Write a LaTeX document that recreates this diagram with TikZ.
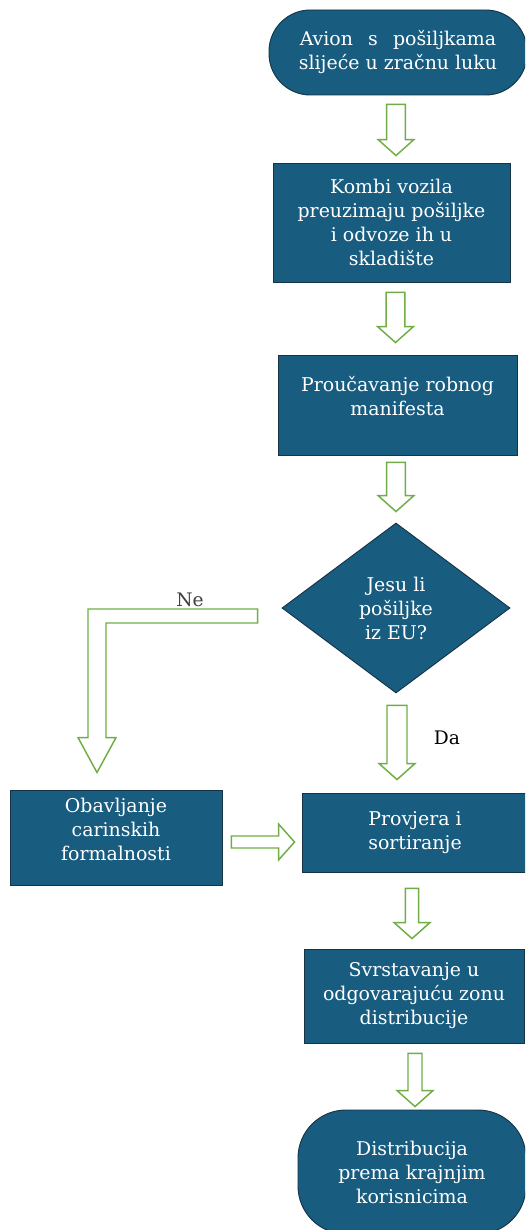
\documentclass[tikz,border=0pt]{standalone}
\usepackage{fontspec}
\setmainfont{DejaVu Serif}
\usetikzlibrary{calc,shapes.geometric,positioning}

\definecolor{boxblue}{RGB}{24,92,128}
\definecolor{boxline}{RGB}{22,52,70}
\definecolor{arrowgreen}{RGB}{112,173,71}

% hollow block arrow: [shaft half width]{start}{tip}
\newcommand{\fatarrow}[3][7pt]{%
  \coordinate (fa-s) at (#2);
  \coordinate (fa-e) at (#3);
  \coordinate (fa-h) at ($(fa-e)!12pt!(fa-s)$);
  \draw[fatarrow] ($(fa-s)!#1!90:(fa-e)$) -- ($(fa-h)!#1!90:(fa-e)$) -- ($(fa-h)!13.5pt!90:(fa-e)$) -- (fa-e)
    -- ($(fa-h)!13.5pt!-90:(fa-e)$) -- ($(fa-h)!#1!-90:(fa-e)$) -- ($(fa-s)!#1!-90:(fa-e)$) -- cycle;
}

\begin{document}
\begin{tikzpicture}[x=0.75pt,y=0.75pt,yscale=-1,xscale=1,
  box/.style={draw=boxline, line width=0.7pt, fill=boxblue, text=white, align=center,
    font=\fontsize{14.2}{18}\selectfont, inner sep=2pt},
  terminal/.style={box, rounded corners=31pt},
  decision/.style={box, diamond, aspect=1.34, inner sep=0pt},
  fatarrow/.style={draw=arrowgreen, line width=1.1pt, fill=white, line join=miter},
  label/.style={font=\fontsize{14}{16}\selectfont, text=black, inner sep=0.75pt}]
\useasboundingbox (0,0) rectangle (525,1230);
\clip (0,0) rectangle (525,1230);

%Shapes: steps
\node[terminal, minimum width=193.5pt, minimum height=63.75pt] (avion) at (398,52.5) {Avion\hspace{0.8em}s\hspace{0.8em}pošiljkama\\slijeće u zračnu luku};
\node[box, minimum width=177.75pt, minimum height=89.25pt] (kombi) at (391.5,222.5) {Kombi vozila\\preuzimaju pošiljke\\i odvoze ih u\\skladište};
\node[box, minimum width=179.25pt, minimum height=75pt] (manifest) at (397.5,405) {Proučavanje robnog\\manifesta\\[-4pt]};
\node[decision, minimum width=171pt, minimum height=127.5pt] (quest) at (396,608) {Jesu li\\pošiljke\\iz EU?};
\node[box, minimum width=159pt, minimum height=71.25pt] (carina) at (116,837.5) {Obavljanje\\carinskih\\formalnosti\\[-5pt]};
\node[box, minimum width=169.5pt, minimum height=59.25pt] (provjera) at (415,832.5) {Provjera i\\sortiranje};
\node[box, minimum width=165pt, minimum height=70.5pt] (zona) at (414,996) {Svrstavanje u\\odgovarajuću zonu\\distribucije};
\node[terminal, rounded corners=36pt, minimum width=171pt, minimum height=93pt] (kraj) at (412,1172) {Distribucija\\prema krajnjim\\korisnicima};

%Block arrows
\fatarrow{$(avion.south)+(-2,9)$}{$(avion.south |- kombi.north)+(-2,-7)$}
\fatarrow{$(manifest.north |- kombi.south)+(-2,10)$}{$(manifest.north)+(-2,-12)$}
\fatarrow{$(quest.north |- manifest.south)+(0,7)$}{$(quest.north)+(0,-11)$}
\fatarrow[7.5pt]{$(quest.south)+(1,12)$}{$(quest.south |- provjera.north)+(1,-13)$}
\fatarrow[4.5pt]{$(carina.east |- provjera.west)+(9,9.5)$}{$(provjera.west)+(-7,9.5)$}
\fatarrow[5pt]{$(provjera.south)+(-3,16)$}{$(provjera.south |- zona.north)+(-3,-10)$}
\fatarrow[5.25pt]{$(zona.south)+(1,10)$}{$(zona.south |- kraj.north)+(1,-3)$}

%Bent arrow (Ne)
\coordinate (ne-start) at ($(quest.west)+(-24,8)$);
\coordinate (ne-tip) at ($(carina.north)+(-19,-17)$);
\draw[fatarrow] ($(ne-start)+(0,-7)$) -- ($(ne-tip |- ne-start)+(-9,-7)$) -- ($(ne-tip)+(-9,-35)$) -- ($(ne-tip)+(-19,-35)$) -- (ne-tip)
  -- ($(ne-tip)+(19,-35)$) -- ($(ne-tip)+(9,-35)$) -- ($(ne-tip |- ne-start)+(9,7)$) -- ($(ne-start)+(0,7)$) -- cycle;

% Text Node
\node[label, text=black!75] (ne) at (190,600) {Ne};
% Text Node
\node[label] (da) at (447,738) {Da};

\end{tikzpicture}
\end{document}
